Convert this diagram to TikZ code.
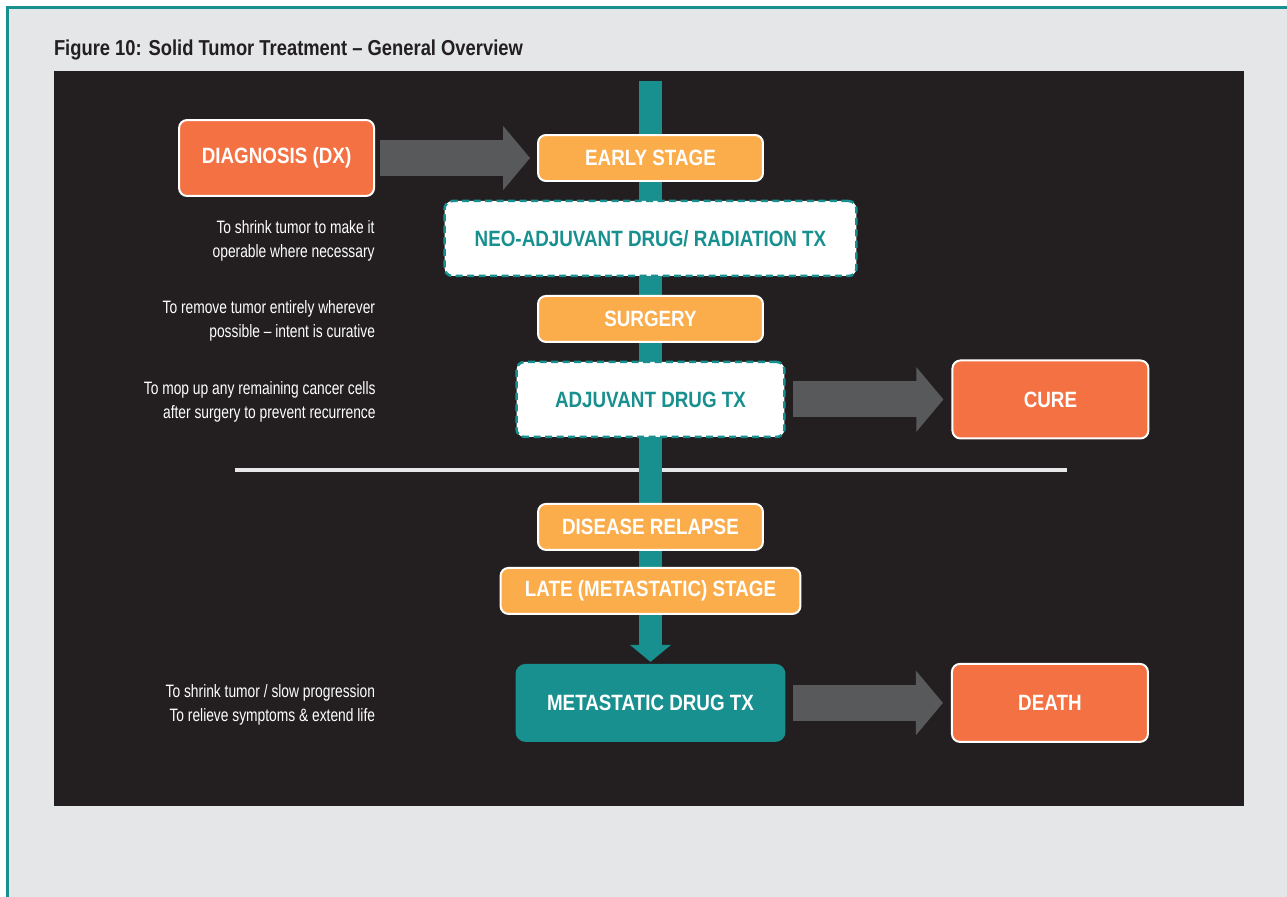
\documentclass[tikz,border=0pt]{standalone}
\usepackage{fontspec}
\setmainfont[FakeStretch=0.85]{Liberation Sans}
\newfontfamily\notefont[FakeStretch=0.77]{Liberation Sans}
\usepackage{xcolor}
\usepackage{tikz}
\usetikzlibrary{positioning, arrows.meta, calc, backgrounds}

\definecolor{panelblack}{HTML}{231F20}
\definecolor{pagegrey}{HTML}{E5E6E8}
\definecolor{txteal}{HTML}{17908F}
\definecolor{dxorange}{HTML}{F37142}
\definecolor{stageorange}{HTML}{FBAD4C}
\definecolor{arrowgrey}{HTML}{58595B}
\definecolor{rulegrey}{HTML}{E6E7E8}

\begin{document}
\begin{tikzpicture}[
    x=0.02cm, y=-0.02cm,
    node distance=0.4cm,
    every node/.style={outer sep=0pt},
    label font/.style={font=\fontsize{12.6}{14}\selectfont\bfseries},
    stage/.style={rectangle, rounded corners=0.16cm, fill=stageorange, draw=white, line width=0.04cm, minimum width=4.5cm, minimum height=0.92cm, text=white, label font},
    outcome/.style={rectangle, rounded corners=0.16cm, fill=dxorange, draw=white, line width=0.04cm, minimum width=3.92cm, minimum height=1.56cm, text=white, label font},
    therapy/.style={rectangle, rounded corners=0.16cm, fill=white, draw=txteal, line width=0.05cm, dash pattern=on 0.14cm off 0.09cm, minimum height=1.5cm, text=txteal, label font},
    note/.style={inner sep=0pt, align=right, text=white, yshift=-0.04cm, font=\notefont\fontsize{10.2}{13.6}\selectfont},
    blockarrow/.style={draw=arrowgrey, line width=0.72cm, -{Triangle[length=0.54cm, width=1.26cm]}},
    spine/.style={draw=txteal, line width=0.46cm, -{Triangle[length=0.34cm, width=0.8cm]}}
]
\useasboundingbox (0,0) rectangle (1287,896);

% Title
\node[anchor=base west, inner sep=0pt, text=panelblack, font=\fontsize{12.3}{14}\selectfont\bfseries] (title) at (54,55) {Figure 10: Solid Tumor Treatment – General Overview};

% Treatment path
\node[stage] (early) at (650.5,158) {EARLY STAGE};
\node[therapy, minimum width=8.24cm, below=of early] (neo) {NEO-ADJUVANT DRUG/ RADIATION TX};
\node[stage, below=of neo] (surgery) {SURGERY};
\node[therapy, minimum width=5.36cm, below=of surgery] (adjuvant) {ADJUVANT DRUG TX};
\node[stage, below=1.34cm of adjuvant] (relapse) {DISEASE RELAPSE};
\node[stage, minimum width=6cm, below=0.36cm of relapse] (late) {LATE (METASTATIC) STAGE};
\node[rectangle, rounded corners=0.2cm, fill=txteal, minimum width=5.4cm, minimum height=1.56cm, text=white, label font, below=1.0cm of late] (mdrug) {METASTATIC DRUG TX};

% Outcomes
\node[outcome, minimum height=1.52cm, minimum width=3.9cm, left=3.28cm of early] (dx) {DIAGNOSIS (DX)};
\node[outcome, right=3.36cm of adjuvant] (cure) {CURE};
\node[outcome, right=3.33cm of mdrug] (death) {DEATH};

% Notes
\node[note, left=1.4cm of neo] (n1) {To shrink tumor to make it\\operable where necessary};
\node[note, left=3.26cm of surgery] (n2) {To remove tumor entirely wherever\\possible – intent is curative};
\node[note, left=2.82cm of adjuvant] (n3) {To mop up any remaining cancer cells\\after surgery to prevent recurrence};
\node[note, left=2.81cm of mdrug] (n4) {To shrink tumor / slow progression\\To relieve symptoms \& extend life};

% Arrows
\draw[blockarrow, shorten <=0.12cm, shorten >=0.16cm] (dx) -- (early);
\draw[blockarrow, shorten <=0.18cm, shorten >=0.18cm] (adjuvant) -- (cure);
\draw[blockarrow, shorten <=0.15cm, shorten >=0.18cm] (mdrug) -- (death);

% Panel, divider and spine
\begin{pgfonlayer}{background}
  \clip (0,0) rectangle (1287,896);
  \fill[pagegrey] (7.5,7.5) rectangle (1300,910);
  \draw[txteal, line width=0.06cm] (1300,7.5) -- (7.5,7.5) -- (7.5,910);
  \fill[panelblack] (54,71) rectangle (1244,806);
  \draw[rulegrey, line width=0.08cm] (235,470) -- (1067,470);
  \coordinate (spinetop) at ($(early.north)+(0,-54)$);
  \draw[spine, shorten >=0.04cm] (spinetop) -- (mdrug.north);
\end{pgfonlayer}
\end{tikzpicture}
\end{document}
